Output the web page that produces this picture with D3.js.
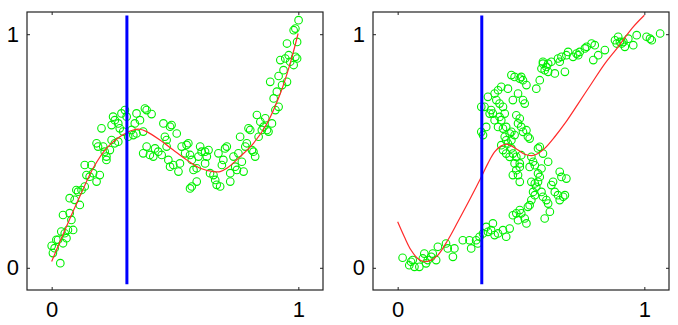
<!DOCTYPE html>
<html>
<head>
<meta charset="utf-8">
<script src="https://cdn.jsdelivr.net/npm/d3@7/dist/d3.min.js"></script>
<style>
  body { margin: 0; background: #fff; }
  text { font-family: "Liberation Sans", Arial, sans-serif; }
</style>
</head>
<body>
<svg id="chart" width="678" height="325"></svg>
<script>
// forward problem: data points (x, t)
const leftPoints = [
  [0.00,0.094],[0.005,0.063],[0.019,0.120],[0.012,0.084],[0.035,0.020],[0.026,0.120],[0.046,0.105],
  [0.060,0.127],[0.053,0.148],[0.039,0.155],[0.066,0.162],[0.080,0.205],[0.087,0.162],[0.046,0.226],
  [0.073,0.234],[0.093,0.291],[0.107,0.326],[0.114,0.269],[0.073,0.298],[0.100,0.333],[0.121,0.333],
  [0.134,0.348],[0.141,0.397],[0.154,0.390],[0.134,0.440],[0.161,0.440],[0.168,0.405],[0.182,0.369],
  [0.195,0.397],[0.182,0.533],[0.188,0.519],[0.209,0.519],[0.222,0.476],[0.222,0.462],[0.202,0.597],
  [0.215,0.497],[0.236,0.504],[0.243,0.547],[0.256,0.533],[0.270,0.540],[0.243,0.611],[0.256,0.632],
  [0.249,0.647],[0.270,0.618],[0.276,0.597],[0.283,0.661],[0.297,0.675],[0.304,0.647],[0.290,0.583],
  [0.310,0.561],[0.324,0.590],[0.331,0.568],[0.344,0.575],[0.337,0.618],[0.344,0.661],[0.358,0.632],
  [0.378,0.682],[0.385,0.675],[0.405,0.658],[0.371,0.583],[0.371,0.490],[0.385,0.519],[0.398,0.483],
  [0.412,0.476],[0.419,0.511],[0.432,0.497],[0.446,0.483],[0.453,0.618],[0.459,0.561],[0.466,0.547],
  [0.480,0.604],[0.486,0.611],[0.507,0.575],[0.466,0.519],[0.473,0.462],[0.493,0.440],[0.480,0.433],
  [0.514,0.412],[0.520,0.447],[0.527,0.519],[0.541,0.490],[0.547,0.526],[0.554,0.533],[0.561,0.483],
  [0.568,0.462],[0.575,0.419],[0.561,0.340],[0.568,0.348],[0.588,0.369],[0.588,0.426],[0.595,0.476],
  [0.602,0.519],[0.608,0.497],[0.622,0.497],[0.622,0.447],[0.629,0.476],[0.636,0.504],[0.642,0.405],
  [0.656,0.397],[0.663,0.376],[0.669,0.355],[0.683,0.348],[0.676,0.490],[0.690,0.440],[0.696,0.462],
  [0.703,0.511],[0.710,0.519],[0.724,0.405],[0.724,0.369],[0.737,0.476],[0.744,0.433],[0.751,0.419],
  [0.757,0.490],[0.764,0.561],[0.771,0.454],[0.778,0.412],[0.785,0.519],[0.791,0.533],[0.798,0.597],
  [0.805,0.590],[0.812,0.504],[0.818,0.497],[0.825,0.476],[0.832,0.654],[0.839,0.561],[0.846,0.625],
  [0.852,0.590],[0.859,0.604],[0.866,0.640],[0.873,0.590],[0.879,0.583],[0.886,0.796],[0.893,0.618],
  [0.900,0.725],[0.907,0.675],[0.913,0.754],[0.920,0.689],[0.920,0.821],[0.927,0.889],[0.940,0.846],
  [0.934,0.782],[0.947,0.896],[0.954,0.796],[0.954,0.960],[0.961,0.910],[0.967,0.882],[0.981,0.868],
  [0.988,0.903],[0.981,1.017],[0.988,1.024],[0.995,0.967],[1.001,1.060],[0.995,0.896]
]

// inverse problem: same data with roles swapped
const rightPoints = [
  [0.020,0.043],[0.047,0.011],[0.054,0.026],[0.061,0.033],[0.068,0.004],[0.088,0.004],[0.102,0.040],
  [0.108,0.061],[0.115,0.019],[0.122,0.033],[0.136,0.047],[0.142,0.061],[0.156,0.033],[0.163,0.090],
  [0.196,0.104],[0.203,0.083],[0.224,0.047],[0.230,0.083],[0.264,0.118],[0.291,0.118],[0.298,0.083],
  [0.318,0.118],[0.325,0.104],[0.332,0.133],[0.346,0.147],[0.359,0.175],[0.366,0.154],[0.379,0.161],
  [0.386,0.190],[0.393,0.140],[0.407,0.147],[0.427,0.161],[0.440,0.133],[0.454,0.168],[0.467,0.225],
  [0.481,0.233],[0.488,0.204],[0.495,0.247],[0.501,0.233],[0.515,0.211],[0.522,0.190],[0.528,0.261],
  [0.535,0.268],[0.542,0.290],[0.549,0.325],[0.556,0.311],[0.562,0.347],[0.569,0.368],[0.576,0.389],
  [0.583,0.325],[0.589,0.304],[0.596,0.211],[0.603,0.290],[0.610,0.275],[0.617,0.240],[0.623,0.354],
  [0.630,0.368],[0.637,0.325],[0.650,0.311],[0.657,0.290],[0.664,0.389],[0.671,0.304],[0.678,0.311],
  [0.684,0.382],[0.657,0.411],
  [0.339,0.582],[0.346,0.568],[0.359,0.603],[0.339,0.689],[0.352,0.689],[0.366,0.732],[0.373,0.660],
  [0.379,0.675],[0.386,0.660],[0.393,0.746],[0.400,0.718],[0.407,0.760],[0.413,0.703],[0.420,0.775],
  [0.427,0.689],[0.413,0.646],[0.420,0.632],[0.427,0.596],[0.434,0.561],[0.440,0.603],[0.447,0.767],
  [0.454,0.575],[0.461,0.825],[0.467,0.718],[0.474,0.817],[0.481,0.653],[0.488,0.746],[0.495,0.810],
  [0.501,0.817],[0.508,0.803],[0.522,0.782],[0.515,0.703],[0.508,0.718],[0.420,0.525],[0.427,0.504],
  [0.440,0.489],[0.454,0.475],[0.461,0.511],[0.467,0.489],[0.461,0.582],[0.474,0.568],[0.488,0.618],
  [0.495,0.639],[0.501,0.603],[0.508,0.582],[0.522,0.589],[0.528,0.561],[0.535,0.553],[0.474,0.447],
  [0.481,0.418],[0.488,0.397],[0.495,0.432],[0.481,0.475],[0.495,0.447],[0.501,0.482],[0.467,0.397],
  [0.495,0.368],[0.542,0.475],[0.549,0.454],[0.556,0.439],[0.569,0.511],[0.576,0.518],[0.610,0.454],
  [0.535,0.432],[0.542,0.368],[0.556,0.361],[0.569,0.404],[0.583,0.425],[0.589,0.489],[0.393,0.632],
  [0.407,0.603],[0.434,0.660],[0.440,0.546],[0.461,0.546],[0.447,0.532],
  [0.562,0.767],[0.576,0.803],[0.583,0.853],[0.589,0.874],[0.596,0.846],[0.603,0.860],[0.610,0.874],
  [0.589,0.882],[0.610,0.839],[0.623,0.882],[0.637,0.832],[0.650,0.896],[0.657,0.882],[0.664,0.903],
  [0.678,0.839],[0.684,0.910],[0.691,0.924],[0.711,0.903],[0.725,0.917],[0.732,0.910],[0.738,0.924],
  [0.759,0.939],[0.766,0.946],[0.786,0.960],[0.793,0.889],[0.799,0.953],[0.813,0.910],[0.840,0.932],
  [0.881,0.974],[0.888,0.960],[0.894,0.989],[0.901,0.967],[0.908,0.960],[0.915,0.967],[0.921,0.946],
  [0.935,0.981],[0.955,0.953],[0.969,0.996],[1.009,0.989],[1.023,0.981],[1.030,0.974],[1.064,1.003]
]

// network fits (red curves)
const leftCurve = [
  [0.000,0.027],[0.060,0.177],[0.114,0.305],[0.168,0.426],[0.222,0.511],[0.276,0.561],[0.331,0.590],
  [0.358,0.593],[0.385,0.583],[0.439,0.547],[0.493,0.504],[0.547,0.462],[0.602,0.426],[0.656,0.412],
  [0.683,0.412],[0.710,0.426],[0.764,0.476],[0.818,0.533],[0.873,0.618],[0.927,0.746],[0.967,0.875],
  [0.999,1.003]
]
const rightCurve = [
  [0.000,0.197],[0.027,0.133],[0.054,0.076],[0.081,0.040],[0.108,0.026],[0.136,0.033],[0.163,0.054],
  [0.203,0.118],[0.244,0.197],[0.298,0.304],[0.339,0.389],[0.366,0.447],[0.393,0.496],[0.420,0.522],
  [0.440,0.529],[0.461,0.522],[0.488,0.504],[0.515,0.486],[0.549,0.481],[0.569,0.489],[0.596,0.511],
  [0.637,0.561],[0.678,0.618],[0.732,0.703],[0.786,0.789],[0.840,0.874],[0.894,0.946],[0.949,1.024],
  [1.000,1.081]
]

const markerX = [0.305, 0.341]
const markerY = [-0.07, 1.08]
const tickValues = [0, 1]

const panels = [
  { points: leftPoints, curve: leftCurve, marker: markerX[0], left: 27, right: 323 },
  { points: rightPoints, curve: rightCurve, marker: markerX[1], left: 373, right: 669 }
]

const svg = d3.select('#chart')
const plotTop = 12
const plotBottom = 290

const y = d3.scaleLinear()
  .domain([-0.095, 1.095])
  .range([plotBottom, plotTop])

panels.forEach((p, i) => {
  const x = d3.scaleLinear()
    .domain([-0.1, 1.1])
    .range([p.left, p.right])

  const g = svg.append('g')

  g.append('clipPath')
    .attr('id', 'clip' + i)
    .append('rect')
    .attr('x', p.left)
    .attr('y', plotTop)
    .attr('width', p.right - p.left)
    .attr('height', plotBottom - plotTop)

  const plot = g.append('g').attr('clip-path', `url(#clip${i})`)

  // scatter
  plot.selectAll('circle')
    .data(p.points)
    .enter()
    .append('circle')
    .attr('cx', d => x(d[0]))
    .attr('cy', d => y(d[1]))
    .attr('r', 3.8)
    .attr('fill', 'none')
    .attr('stroke', '#00f000')
    .attr('stroke-width', 1.1)

  // fitted curve
  plot.append('path')
    .datum(p.curve)
    .attr('d', d3.line().x(d => x(d[0])).y(d => y(d[1])).curve(d3.curveCatmullRom))
    .attr('fill', 'none')
    .attr('stroke', '#ff2a2a')
    .attr('stroke-width', 1.2)

  // blue vertical line
  g.append('line')
    .attr('x1', x(p.marker)).attr('x2', x(p.marker))
    .attr('y1', y(markerY[0])).attr('y2', y(markerY[1]))
    .attr('stroke', '#0000ff')
    .attr('stroke-width', 3)

  // frame
  g.append('rect')
    .attr('x', p.left)
    .attr('y', plotTop)
    .attr('width', p.right - p.left)
    .attr('height', plotBottom - plotTop)
    .attr('fill', 'none')
    .attr('stroke', '#222')
    .attr('stroke-width', 1.2)

  // inward ticks on all four sides
  const xb = g.append('g').attr('transform', `translate(0,${plotBottom})`)
    .call(d3.axisBottom(x).tickValues(tickValues).tickSize(-3).tickPadding(11).tickFormat(d3.format('d')))
  const xt = g.append('g').attr('transform', `translate(0,${plotTop})`)
    .call(d3.axisTop(x).tickValues(tickValues).tickSize(-3).tickFormat(''))
  const yl = g.append('g').attr('transform', `translate(${p.left},0)`)
    .call(d3.axisLeft(y).tickValues(tickValues).tickSize(-3).tickPadding(8).tickFormat(d3.format('d')))
  const yr = g.append('g').attr('transform', `translate(${p.right},0)`)
    .call(d3.axisRight(y).tickValues(tickValues).tickSize(-3).tickFormat(''))

  ;[xb, xt, yl, yr].forEach(a => {
    a.select('.domain').remove()
    a.selectAll('.tick line').attr('stroke', '#222')
    a.selectAll('.tick text')
      .attr('fill', '#000')
      .style('font-size', '22px')
      .style('font-family', '"Liberation Sans", Arial, sans-serif')
  })
})
</script>
</body>
</html>
